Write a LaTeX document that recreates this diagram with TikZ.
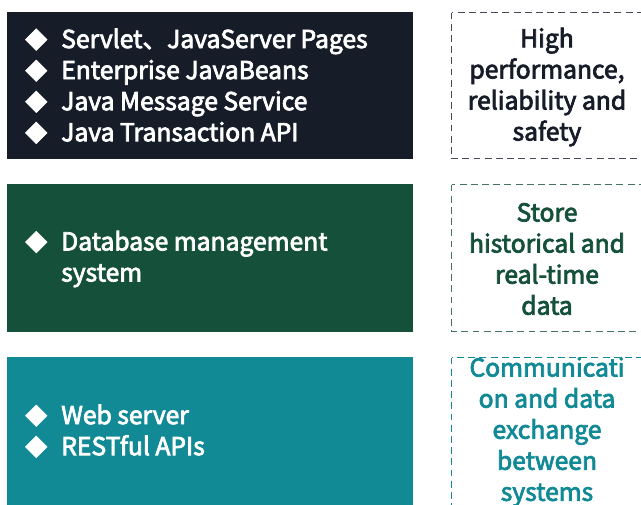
\documentclass[tikz,border=0pt]{standalone}
\usepackage{fontspec}
\setmainfont{Noto Sans CJK SC}[FakeBold=3]
\definecolor{navy}{HTML}{161D29}
\definecolor{forest}{HTML}{15503A}
\definecolor{teal}{HTML}{128A96}
\tikzset{
  panel/.style={fill=#1, draw=none},
  note/.style={draw=#1, dashed, dash pattern=on 5.2pt off 3.2pt, line width=1.1pt},
  items/.style={anchor=west, align=left, text=white, font=\fontsize{18.5}{23.3}\selectfont, inner sep=0pt},
  notetext/.style={anchor=center, align=center, text=#1, font=\fontsize{18.5}{23.3}\selectfont, inner sep=0pt},
}
\newcommand{\bul}{\makebox[27pt][l]{\fontsize{16.5}{16.5}\selectfont◆}}
\begin{document}
\begin{tikzpicture}[x=0.75pt,y=-0.75pt]
  \useasboundingbox (0,0) rectangle (641,504);
  \clip (0,0) rectangle (641,504);

  % first tier
  \fill[panel=navy] (7,12) rectangle (413,159);
  \node[items] (t1) at (25,86) {\bul Servlet、JavaServer Pages\\ \bul Enterprise JavaBeans\\ \bul Java Message Service\\ \bul Java Transaction API};
  \draw[note=navy!80] (451.5,12.5) rectangle (648,158.5);
  \node[notetext=navy] (n1) at (547,87) {High\\ performance,\\ reliability and\\ safety};

  % second tier
  \fill[panel=forest] (7,184) rectangle (413,332);
  \node[items] (t2) at (25,259) {\bul Database management\\ \makebox[27pt]{}system};
  \draw[note=forest!80] (451.5,184.5) rectangle (648,331.5);
  \node[notetext=forest] (n2) at (547,259) {Store\\ historical and\\ real-time\\ data};

  % third tier
  \fill[panel=teal] (7,357) rectangle (413,520);
  \node[items] (t3) at (25,431) {\bul Web server\\ \bul RESTful APIs};
  \draw[note=teal] (451.5,357.5) rectangle (648,520);
  \node[notetext=teal] (n3) at (547,432) {Communicati\\ on and data\\ exchange\\ between\\ systems};
\end{tikzpicture}
\end{document}
